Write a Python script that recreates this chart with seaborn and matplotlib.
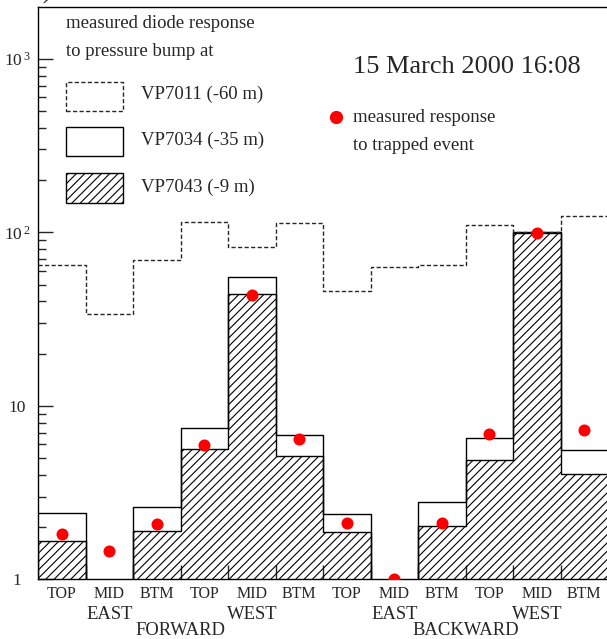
import numpy as np
import seaborn as sns
import matplotlib.pyplot as plt
from matplotlib.patches import Rectangle
from matplotlib.ticker import LogLocator, NullFormatter

# 12 diode positions: TOP/MID/BTM x EAST/WEST x FORWARD/BACKWARD
sectors = ["TOP", "MID", "BTM"] * 4
sides = ["EAST", "WEST", "EAST", "WEST"]
halves = ["FORWARD", "BACKWARD"]

# measured diode response to pressure bump
vp7011 = [65, 33.6, 69, 114, 82.6, 113, 45.9, 63, 64.5, 110, 100, 124.6]
vp7034 = [2.42, 0, 2.62, 7.42, 55.0, 6.76, 2.39, 0, 2.80, 6.50, 100, 5.56]
vp7043 = [1.66, 0, 1.89, 5.61, 44.3, 5.14, 1.87, 0, 2.03, 4.89, 99.5, 4.05]
# measured response to trapped event
trapped = [1.82, 1.46, 2.09, 5.94, 43.3, 6.44, 2.12, 1.0, 2.12, 6.85, 99.5, 7.25]

pos = np.arange(len(sectors))

sns.set_style("ticks")
plt.rcParams["font.family"] = ["Liberation Serif", "DejaVu Serif"]
plt.rcParams["hatch.linewidth"] = 0.8

fig = plt.figure(figsize=(6.07, 6.39), dpi=100)
ax = fig.add_axes([38 / 607, (639 - 579.3) / 639, 570 / 607, 572 / 639])


def axc(xp, yp):
    # pixel position in the picture -> axes fraction
    return ((xp - 38) / 570, (579.3 - yp) / 572)


dash = (0, (3, 1.7))

sns.histplot(x=pos, weights=vp7043, discrete=True, element="step", fill=True,
             color="black", facecolor="none", edgecolor="black", hatch="////",
             linewidth=1, ax=ax, zorder=2)
sns.histplot(x=pos, weights=vp7034, discrete=True, element="step", fill=False,
             color="black", linewidth=1, ax=ax, zorder=3)
sns.histplot(x=pos, weights=vp7011, discrete=True, element="step", fill=False,
             color="0.15", linewidth=1, linestyle=dash, ax=ax, zorder=3)
sns.scatterplot(x=pos, y=trapped, color="red", s=75, linewidth=0, zorder=5,
                ax=ax, legend=False)

ax.set_yscale("log")
ax.set_xlim(-0.5, 11.5)
ax.set_ylim(1, 1980)
ax.set_xlabel("")
ax.set_ylabel("")

ax.set_yticks([1, 10, 100, 1000],
              ["1", "10", r"$\mathregular{10^{\,2}}$", r"$\mathregular{10^{\,3}}$"],
              ha="center")
ax.yaxis.set_minor_locator(LogLocator(base=10, subs=np.arange(2, 10)))
ax.yaxis.set_minor_formatter(NullFormatter())
ax.tick_params(axis="y", which="major", direction="in", length=11, width=1,
               pad=15, labelsize=12.5)
ax.tick_params(axis="y", which="minor", direction="in", length=6, width=1)

ax.set_xticks(pos, sectors)
ax.set_xticks(np.arange(0.5, 11, 1), minor=True)
ax.tick_params(axis="x", which="major", length=0, pad=5, labelsize=11.5)
ax.tick_params(axis="x", which="minor", direction="in", length=10, width=1)

for sp in ax.spines.values():
    sp.set_visible(True)
    sp.set_linewidth(1)
    sp.set_color("black")

xt = ax.get_xaxis_transform()
for i, s in enumerate(sides):
    ax.text(3 * i + 1, (579.3 - 619) / 572, s, transform=xt, ha="center",
            va="baseline", fontsize=13.4, clip_on=False)
for i, h in enumerate(halves):
    ax.text(6 * i + 2.5, (579.3 - 635) / 572, h, transform=xt, ha="center",
            va="baseline", fontsize=13.4, clip_on=False)

# legend block, top left
ax.text(*axc(66, 24), "measured diode response", transform=ax.transAxes,
        va="center", fontsize=13.5)
ax.text(*axc(66, 52), "to pressure bump at", transform=ax.transAxes,
        va="center", fontsize=13.5)
ax.add_patch(Rectangle(axc(66, 110.7), 57.3 / 570, 29 / 572, transform=ax.transAxes,
                       fill=False, edgecolor="0.15", linewidth=1, linestyle=dash))
ax.add_patch(Rectangle(axc(66, 156.3), 57.3 / 570, 29 / 572, transform=ax.transAxes,
                       fill=False, edgecolor="black", linewidth=1))
ax.add_patch(Rectangle(axc(66, 202.7), 57.3 / 570, 29.4 / 572, transform=ax.transAxes,
                       fill=False, edgecolor="black", linewidth=1, hatch="////"))
for yp, lab in [(94, "VP7011 (-60 m)"), (140, "VP7034 (-35 m)"), (187, "VP7043 (-9 m)")]:
    ax.text(*axc(141, yp), lab, transform=ax.transAxes, va="center", fontsize=13.5)

# trapped event legend and date
ax.plot(*axc(336, 117), marker="o", color="red", markersize=8.5, linestyle="none",
        transform=ax.transAxes, clip_on=False)
ax.text(*axc(353, 117), "measured response", transform=ax.transAxes,
        va="center", fontsize=13.5)
ax.text(*axc(353, 145), "to trapped event", transform=ax.transAxes,
        va="center", fontsize=13.5)
ax.text(*axc(353, 67), "15 March 2000 16:08", transform=ax.transAxes,
        va="center", fontsize=19)

# panel label, mostly cut off at the top edge as in the original
fig.text(51 / 607, 1 + 1.5 / 639, "a)", ha="right", va="baseline", fontsize=19)

fig.savefig("out.png", dpi=100)
